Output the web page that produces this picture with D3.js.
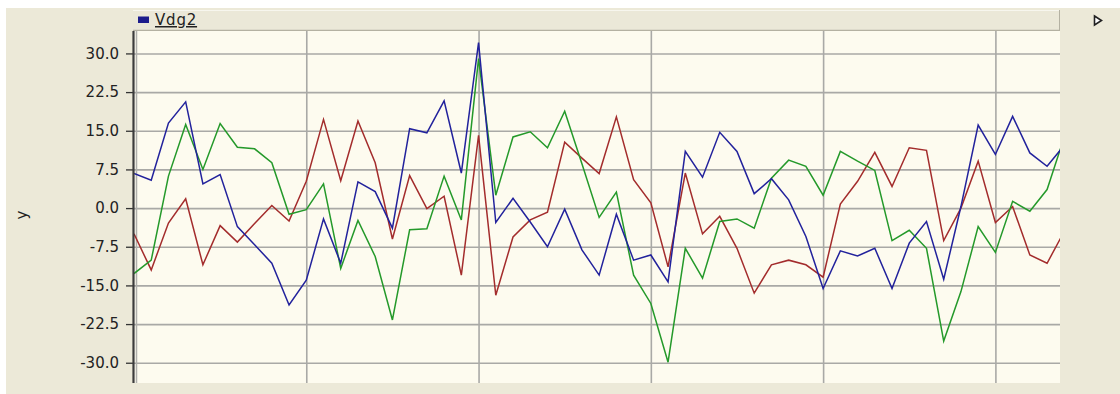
<!DOCTYPE html>
<html>
<head>
<meta charset="utf-8">
<script src="https://cdn.jsdelivr.net/npm/d3@7"></script>
<style>
  body { margin: 0; background: #fff; }
  svg { display: block; }
</style>
</head>
<body>
<div id="chart"></div>
<script>
// values, one per sample index (0..54)
const blueValues = [6.7, 5.4, 16.5, 20.6, 4.7, 6.5, -3.6, -7.1, -10.7, -18.8,
  -14.0, -2.1, -10.7, 5.1, 3.2, -3.9, 15.4, 14.6, 20.8, 6.8,
  32.1, -2.8, 1.9, -2.7, -7.5, -0.2, -8.1, -13.0, -1.2, -10.1,
  -9.1, -14.3, 11.0, 6.0, 14.7, 11.0, 2.8, 5.7, 1.6, -5.5,
  -15.6, -8.3, -9.3, -7.8, -15.6, -6.8, -2.6, -13.8, 0.3, 16.1,
  10.4, 17.8, 10.7, 8.1, 12.2];
const redValues = [-5.0, -12.0, -2.9, 1.8, -11.0, -3.4, -6.6, -3.0, 0.5, -2.5,
  5.2, 17.2, 5.3, 16.9, 8.8, -6.0, 6.3, -0.1, 2.3, -13.0,
  14.1, -16.9, -5.6, -2.3, -0.8, 12.8, 9.7, 6.7, 17.7, 5.5,
  1.0, -11.4, 6.8, -5.0, -1.6, -7.8, -16.5, -11.0, -10.1, -11.0,
  -13.4, 0.8, 5.2, 10.8, 4.2, 11.7, 11.2, -6.3, 0.0, 9.1,
  -2.8, 0.3, -9.1, -10.7, -4.5];
const greenValues = [-12.7, -10.1, 6.2, 16.2, 7.5, 16.4, 11.8, 11.5, 8.8, -1.2,
  -0.3, 4.7, -11.7, -2.4, -9.4, -21.7, -4.2, -4.0, 6.2, -2.3,
  29.0, 2.5, 13.8, 14.8, 11.7, 18.8, 8.6, -1.8, 3.1, -13.0,
  -18.5, -29.9, -7.8, -13.6, -2.6, -2.1, -3.9, 5.8, 9.3, 8.1,
  2.5, 11.0, 9.1, 7.3, -6.3, -4.3, -7.8, -25.8, -16.2, -3.6,
  -8.6, 1.3, -0.6, 3.6, 13.8];

const yTicks = [30.0, 22.5, 15.0, 7.5, 0.0, -7.5, -15.0, -22.5, -30.0];
const xGrid = [10, 20, 30, 40, 50];
const legendLabel = 'Vdg2';
const yLabel = 'y';

const width = 1120;
const height = 394;
const plotLeft = 134;
const plotTop = 31;
const plotRight = 1060;
const plotBottom = 383;

const seriesList = [
  { name: 'red', values: redValues, color: '#a32c2c' },
  { name: 'green', values: greenValues, color: '#24992a' },
  { name: 'blue', values: blueValues, color: '#22229c' }
];

const svg = d3.select('#chart').append('svg')
  .attr('width', width)
  .attr('height', height);

// window frame
svg.append('rect').attr('width', width).attr('height', height).attr('fill', '#ffffff');
svg.append('rect')
  .attr('x', 6).attr('y', 8)
  .attr('width', width - 6).attr('height', height - 8)
  .attr('fill', '#ece9d8');

// legend strip
svg.append('rect')
  .attr('x', 133).attr('y', 10)
  .attr('width', plotRight - 133).attr('height', plotTop - 10)
  .attr('fill', '#ebe8d8');
svg.append('line')
  .attr('x1', 133).attr('x2', plotRight)
  .attr('y1', 10.5).attr('y2', 10.5)
  .attr('stroke', '#f7f6ee');
svg.append('line')
  .attr('x1', 133).attr('x2', plotRight)
  .attr('y1', plotTop - 0.5).attr('y2', plotTop - 0.5)
  .attr('stroke', '#b4b1a2').attr('stroke-width', 1.5);
svg.append('line')
  .attr('x1', plotRight - 0.5).attr('x2', plotRight - 0.5)
  .attr('y1', 10).attr('y2', plotTop)
  .attr('stroke', '#b4b1a2');

svg.append('rect')
  .attr('x', 138).attr('y', 16.5)
  .attr('width', 11).attr('height', 6.5)
  .attr('fill', '#1c1c8c');
svg.append('text')
  .attr('x', 155).attr('y', 25)
  .attr('font-family', 'DejaVu Sans, Verdana, sans-serif')
  .attr('font-size', '15px')
  .attr('letter-spacing', '0.8px')
  .attr('text-decoration', 'underline')
  .attr('fill', '#222')
  .text(legendLabel);

// small triangle button at top right
svg.append('path')
  .attr('d', 'M1094.5,16 L1101.5,20.5 L1094.5,25 Z')
  .attr('fill', '#ffffff')
  .attr('stroke', '#222')
  .attr('stroke-width', 1.6);

// plot area
svg.append('rect')
  .attr('x', plotLeft).attr('y', plotTop)
  .attr('width', plotRight - plotLeft).attr('height', plotBottom - plotTop)
  .attr('fill', '#fdfbef');

const x = d3.scaleLinear()
  .domain([0, 53.75])
  .range([plotLeft, plotRight]);

const y = d3.scaleLinear()
  .domain([-33.93, 34.35])
  .range([plotBottom, plotTop]);

// grid
svg.append('g')
  .attr('class', 'xgrid')
  .attr('transform', `translate(0, ${plotTop})`)
  .call(d3.axisBottom(x)
    .tickValues(xGrid)
    .tickSize(plotBottom - plotTop)
    .tickFormat(''))
  .call(g => g.select('.domain').remove())
  .selectAll('line')
  .attr('stroke', '#a9a9a6')
  .attr('stroke-width', 1.6);

svg.append('g')
  .attr('class', 'ygrid')
  .attr('transform', `translate(${plotLeft}, 0)`)
  .call(d3.axisLeft(y)
    .tickValues(yTicks)
    .tickSize(-(plotRight - plotLeft))
    .tickFormat(''))
  .call(g => g.select('.domain').remove())
  .selectAll('line')
  .attr('stroke', '#a9a9a6')
  .attr('stroke-width', 1.6);

svg.append('line')
  .attr('x1', plotLeft + 2.5).attr('x2', plotLeft + 2.5)
  .attr('y1', plotTop).attr('y2', plotBottom)
  .attr('stroke', '#b0b0ac').attr('stroke-width', 1.5);

// series
svg.append('clipPath')
  .attr('id', 'plotClip')
  .append('rect')
  .attr('x', plotLeft).attr('y', plotTop)
  .attr('width', plotRight - plotLeft).attr('height', plotBottom - plotTop);

const line = d3.line()
  .x((d, i) => x(i))
  .y(d => y(d));

svg.append('g')
  .attr('clip-path', 'url(#plotClip)')
  .selectAll('path')
  .data(seriesList)
  .enter()
  .append('path')
  .attr('d', s => line(s.values))
  .attr('fill', 'none')
  .attr('stroke', s => s.color)
  .attr('stroke-width', 1.5)
  .attr('stroke-linejoin', 'miter');

// y axis
const yAxis = svg.append('g')
  .attr('class', 'yaxis')
  .attr('transform', `translate(${plotLeft}, 0)`)
  .call(d3.axisLeft(y)
    .tickValues(yTicks)
    .tickSize(8)
    .tickPadding(7)
    .tickSizeOuter(0)
    .tickFormat(d => d.toFixed(1)));

yAxis.select('.domain').remove();
yAxis.selectAll('line').attr('stroke', '#333').attr('stroke-width', 1.3);
yAxis.selectAll('text')
  .attr('font-family', 'DejaVu Sans, Verdana, sans-serif')
  .attr('font-size', '15px')
  .attr('fill', '#222');

svg.append('line')
  .attr('x1', plotLeft - 0.5).attr('x2', plotLeft - 0.5)
  .attr('y1', plotTop).attr('y2', plotBottom)
  .attr('stroke', '#3c3c3c').attr('stroke-width', 2.2);

svg.append('text')
  .attr('transform', `translate(27, 215) rotate(-90)`)
  .attr('text-anchor', 'middle')
  .attr('font-family', 'DejaVu Sans, Verdana, sans-serif')
  .attr('font-size', '15px')
  .attr('fill', '#222')
  .text(yLabel);
</script>
</body>
</html>
